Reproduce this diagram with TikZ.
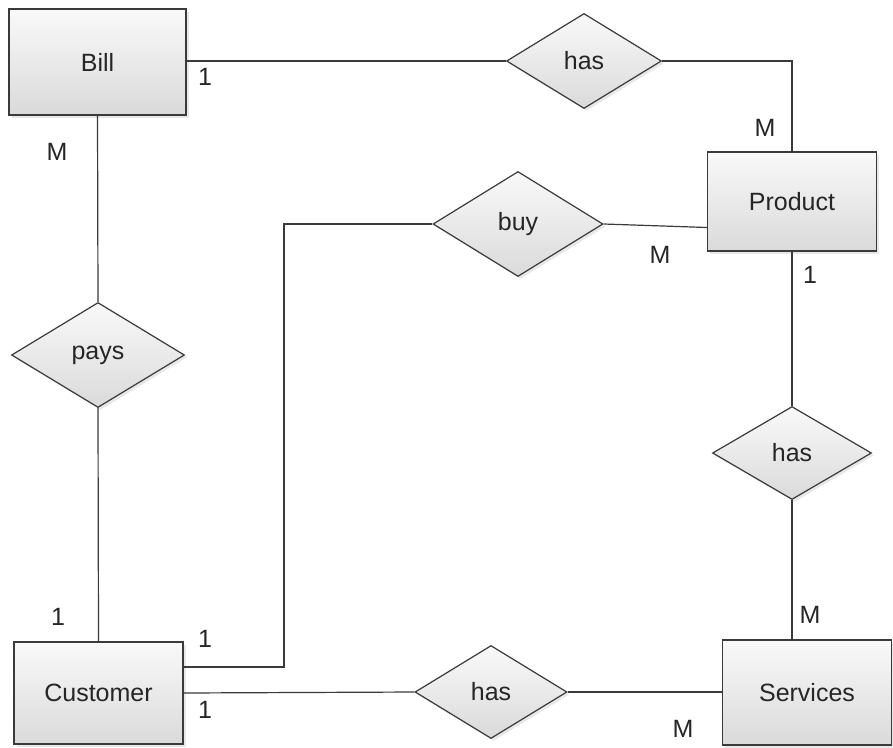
\documentclass[tikz,border=0pt]{standalone}
\usepackage{fontspec}
\setmainfont{Liberation Sans}
\usetikzlibrary{shapes.geometric,shadows}
\definecolor{edgegray}{HTML}{3A3A3A}
\definecolor{filltop}{HTML}{F9F9F9}
\definecolor{fillbot}{HTML}{DADADA}
\begin{document}
\begin{tikzpicture}[x=1pt,y=-1pt,
  txt/.style={font=\fontsize{25}{30}\selectfont, text=black!85},
  softshadow/.style={drop shadow={opacity=0.18, shadow xshift=2.5pt, shadow yshift=-2.5pt}},
  entity/.style={txt, draw=edgegray, line width=1.3pt, top color=filltop, bottom color=fillbot,
    rectangle, inner sep=0pt, softshadow},
  relation/.style={txt, diamond, draw=edgegray, line width=1.2pt, top color=filltop, bottom color=fillbot,
    inner sep=0pt, softshadow},
  link/.style={draw=edgegray, line width=1.2pt},
  card/.style={txt, inner sep=0pt}
]
\useasboundingbox[fill=white] (0,0) rectangle (893,747);

% entities
\node[entity, minimum width=177pt, minimum height=106pt] (bill) at (97.5,62) {Bill};
\node[entity, minimum width=169pt, minimum height=99pt] (product) at (792,201.5) {Product};
\node[entity, minimum width=169pt, minimum height=102pt] (customer) at (98.5,693) {Customer};
\node[entity, minimum width=169pt, minimum height=105pt] (services) at (807,692.5) {Services};

% relationships
\node[relation, minimum width=155pt, minimum height=95pt] (hasbp) at (584,61) {has};
\node[relation, minimum width=170pt, minimum height=105pt] (buy) at (518,224) {buy};
\node[relation, minimum width=173pt, minimum height=105pt] (pays) at (98,355) {pays};
\node[relation, minimum width=159pt, minimum height=93pt] (hasps) at (792,453) {has};
\node[relation, minimum width=152pt, minimum height=93pt] (hascs) at (491,692) {has};

% connectors
\draw[link] (hasbp.west -| bill.east) -- (hasbp.west);
\draw[link] (hasbp.east) -| (product.north);
\draw[link] (bill.south) -- (pays.north);
\draw[link] (pays.south) -- (customer.north);
\draw[link] (buy.east) -- ([yshift=-26pt]product.west);
\coordinate (bend) at (284,667);
\draw[link] ([yshift=26pt]customer.east) -- (bend) |- (buy.west);
\draw[link] (customer.east) -- (hascs.west);
\draw[link] (hascs.east) -- (hascs.east -| services.west);
\draw[link] (product.south) -- (hasps.north);
\draw[link] (hasps.south) -- (hasps.south |- services.north);

% cardinalities
\node[card] (c1) at (205,77) {1};
\node[card] (c2) at (57,152) {M};
\node[card] (c3) at (765,128) {M};
\node[card] (c4) at (660,255) {M};
\node[card] (c5) at (810,275) {1};
\node[card] (c6) at (810,615) {M};
\node[card] (c7) at (58,617) {1};
\node[card] (c8) at (205,639) {1};
\node[card] (c9) at (205,710) {1};
\node[card] (c10) at (683,729) {M};
\end{tikzpicture}
\end{document}
